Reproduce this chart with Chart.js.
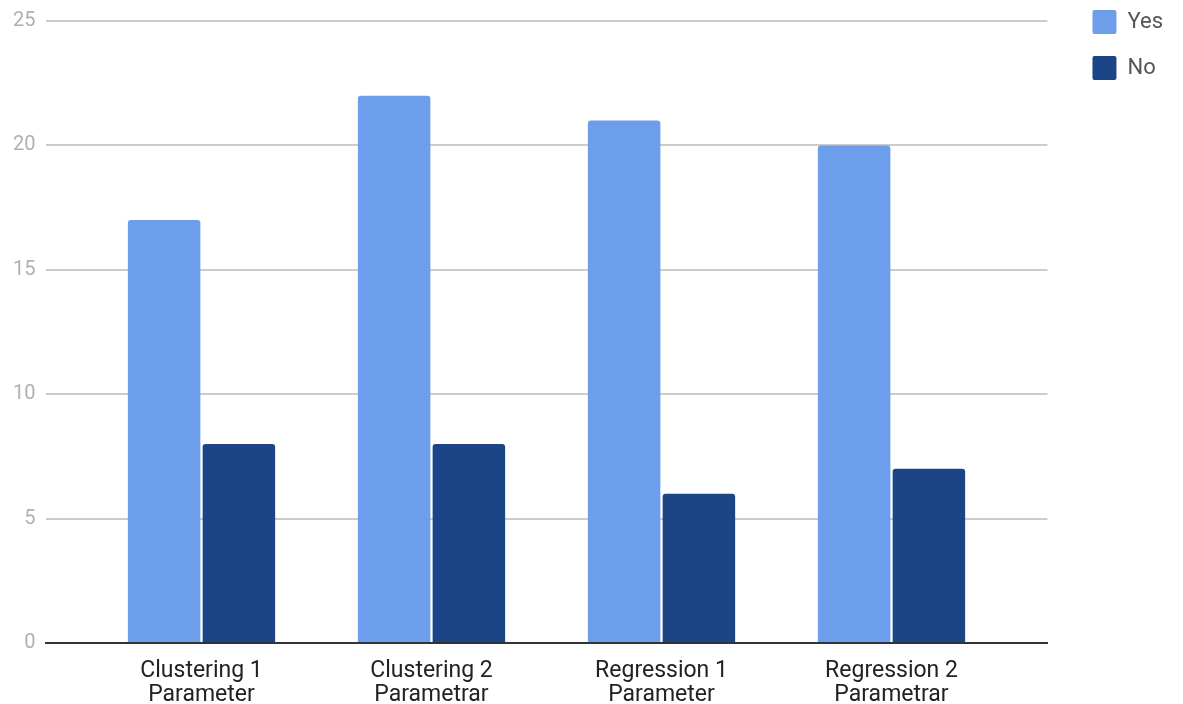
<!DOCTYPE html>
<html>
<head>
<meta charset="utf-8">
<script src="https://cdn.jsdelivr.net/npm/chart.js@4/dist/chart.umd.min.js"></script>
<style>
  html, body { margin: 0; padding: 0; background: #fff; }
  #wrap { width: 1183px; height: 704px; }
</style>
</head>
<body>
<div id="wrap"><canvas id="chart"></canvas></div>
<script>
const categories = [["Clustering 1", "Parameter"], ["Clustering 2", "Parametrar"], ["Regression 1", "Parameter"], ["Regression 2", "Parametrar"]];
const yesValues = [17, 22, 21, 20];
const noValues = [8, 8, 6, 7];
const yTicks = [0, 5, 10, 15, 20, 25];

// bars sit on an index axis with some extra room at both ends, like the original
const toPoints = (vals) => vals.map((v, i) => ({ x: i, y: v }));

// leave a gap between the plot and the legend, and lift the legend to the top
const legendShift = {
    id: "legendShift",
    beforeLayout(chart) {
        const lg = chart.legend;
        if (lg && !lg._wrapped) {
            const fit = lg.fit;
            lg.fit = function () {
                fit.call(this);
                this.width += 23;
            };
            lg._wrapped = true;
        }
    },
    afterLayout(chart) {
        const lg = chart.legend;
        lg.left += 23;
        lg.right += 23;
        lg.top -= 16;
        lg.bottom -= 16;
    },
};

new Chart(document.getElementById("chart"), {
    type: "bar",
    data: {
        datasets: [
            {
                label: "Yes",
                data: toPoints(yesValues),
                backgroundColor: "#6d9eeb",
                borderRadius: { topLeft: 3, topRight: 3 },
                borderSkipped: "bottom",
            },
            {
                label: "No",
                data: toPoints(noValues),
                backgroundColor: "#1c4587",
                borderRadius: { topLeft: 3, topRight: 3 },
                borderSkipped: "bottom",
            },
        ],
    },
    options: {
        responsive: true,
        maintainAspectRatio: false,
        animation: false,
        datasets: {
            bar: { categoryPercentage: 0.65, barPercentage: 0.97 },
        },
        layout: { padding: { top: 4, right: 10, left: 2, bottom: -19 } },
        plugins: {
            tooltip: { enabled: false },
            legend: {
                position: "right",
                align: "start",
                labels: {
                    boxWidth: 24,
                    boxHeight: 24,
                    padding: 22,
                    color: "#555",
                    font: { family: "Roboto", size: 22 },
                    useBorderRadius: true,
                    borderRadius: 2,
                },
            },
        },
        scales: {
            x: {
                type: "linear",
                offset: false,
                min: -0.674,
                max: 3.678,
                afterBuildTicks: (axis) => {
                    axis.ticks = categories.map((c, i) => ({ value: i }));
                },
                grid: { display: false, drawTicks: false, offset: false },
                border: { display: true, color: "#333", width: 2 },
                ticks: {
                    color: "#222",
                    font: { family: "Roboto", size: 23, lineHeight: "24px" },
                    padding: 16,
                    maxRotation: 0,
                    autoSkip: false,
                    callback: (value) => categories[value],
                },
            },
            y: {
                min: 0,
                max: 25,
                afterBuildTicks: (axis) => {
                    axis.ticks = yTicks.map((v) => ({ value: v }));
                },
                grid: { color: "#cccccc", lineWidth: 2, drawTicks: false },
                border: { display: false },
                ticks: {
                    color: "#b0b0b0",
                    font: { family: "Roboto", size: 20, lineHeight: 1 },
                    padding: 11,
                },
            },
        },
    },
    plugins: [legendShift],
});
</script>
</body>
</html>
